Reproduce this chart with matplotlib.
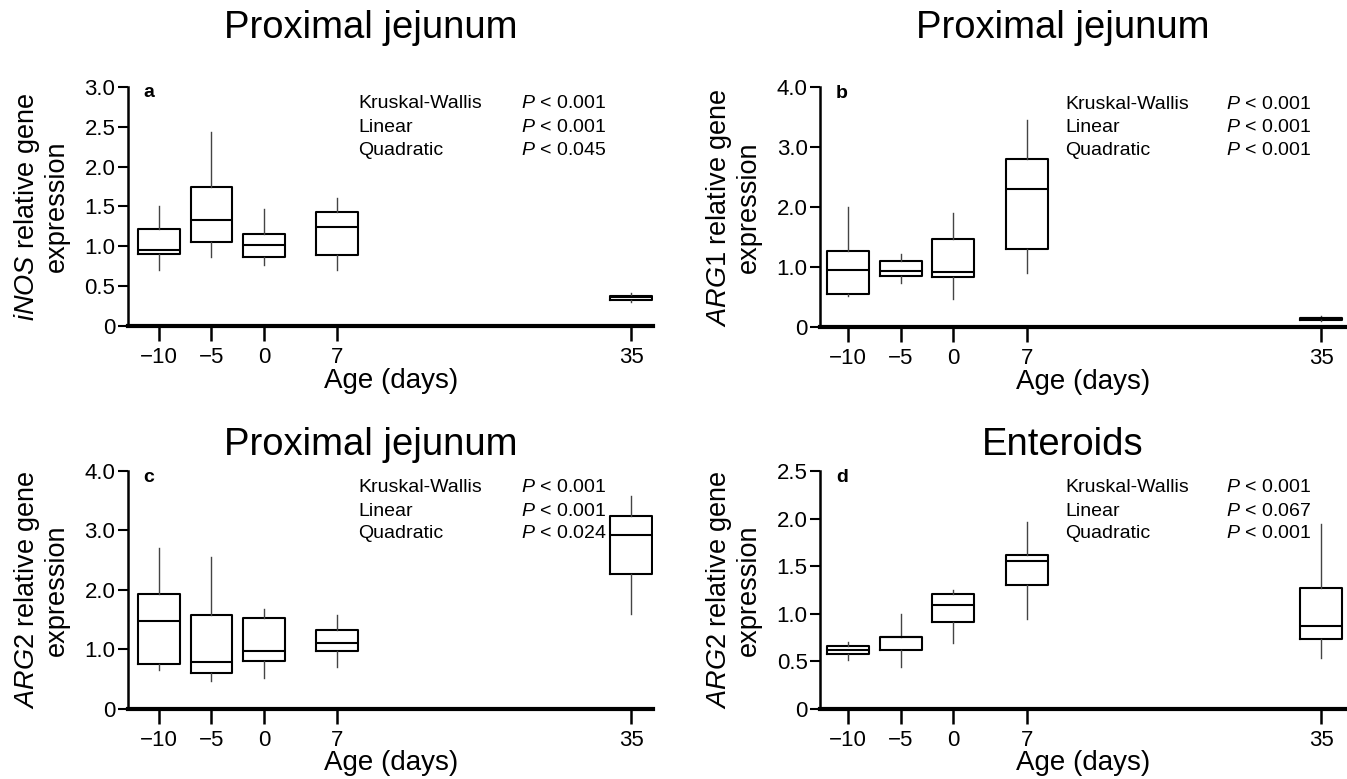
import matplotlib
matplotlib.use('Agg')
import matplotlib.pyplot as plt

plt.rcParams['font.family'] = ['Liberation Sans', 'DejaVu Sans']
plt.rcParams['mathtext.fontset'] = 'custom'
plt.rcParams['mathtext.it'] = 'Liberation Sans:italic'
plt.rcParams['mathtext.rm'] = 'Liberation Sans'

# Age groups
ages = [-10, -5, 0, 7, 35]
age_labels = ['\u221210', '\u22125', '0', '7', '35']

# each panel: whisker low, q1, median, q3, whisker high per age
inos_lo = [0.70, 0.87, 0.77, 0.70, 0.30]
inos_q1 = [0.90, 1.06, 0.87, 0.89, 0.33]
inos_med = [0.95, 1.33, 1.01, 1.24, 0.36]
inos_q3 = [1.22, 1.74, 1.15, 1.43, 0.38]
inos_hi = [1.50, 2.43, 1.47, 1.60, 0.42]

arg1_lo = [0.52, 0.73, 0.47, 0.90, 0.10]
arg1_q1 = [0.55, 0.86, 0.83, 1.31, 0.12]
arg1_med = [0.95, 0.93, 0.92, 2.30, 0.15]
arg1_q3 = [1.27, 1.10, 1.47, 2.80, 0.16]
arg1_hi = [2.00, 1.22, 1.90, 3.45, 0.19]

arg2_lo = [0.65, 0.47, 0.52, 0.70, 1.60]
arg2_q1 = [0.75, 0.60, 0.80, 0.98, 2.26]
arg2_med = [1.48, 0.78, 0.98, 1.10, 2.93]
arg2_q3 = [1.93, 1.57, 1.53, 1.33, 3.25]
arg2_hi = [2.70, 2.55, 1.68, 1.57, 3.58]

ent_lo = [0.51, 0.44, 0.69, 0.94, 0.53]
ent_q1 = [0.58, 0.62, 0.91, 1.30, 0.73]
ent_med = [0.62, 0.75, 1.09, 1.55, 0.87]
ent_q3 = [0.66, 0.76, 1.21, 1.62, 1.27]
ent_hi = [0.70, 1.00, 1.25, 1.96, 1.94]

stats_names = ['Kruskal-Wallis', 'Linear', 'Quadratic']
p_a = ['0.001', '0.001', '0.045']
p_b = ['0.001', '0.001', '0.001']
p_c = ['0.001', '0.001', '0.024']
p_d = ['0.001', '0.067', '0.001']


def make_stats(lo, q1, med, q3, hi):
    out = []
    for i in range(len(lo)):
        out.append({'whislo': lo[i], 'q1': q1[i], 'med': med[i],
                    'q3': q3[i], 'whishi': hi[i], 'fliers': []})
    return out


fig = plt.figure(figsize=(13.47, 7.79), dpi=100)

panels = [
    # pos, data, title, gene, yticks, ylabels, letter, pvals, xlim, title y
    ([0.095, 0.5815, 0.390, 0.307], (inos_lo, inos_q1, inos_med, inos_q3, inos_hi),
     'Proximal jejunum', 'iNOS', [0, 0.5, 1.0, 1.5, 2.0, 2.5, 3.0],
     ['0', '0.5', '1.0', '1.5', '2.0', '2.5', '3.0'], 'a', p_a, (-12.96, 37.1), 1.247),
    ([0.6088, 0.580, 0.3912, 0.308], (arg1_lo, arg1_q1, arg1_med, arg1_q3, arg1_hi),
     'Proximal jejunum', 'ARG1', [0, 1, 2, 3, 4],
     ['0', '1.0', '2.0', '3.0', '4.0'], 'b', p_b, (-12.66, 37.47), 1.246),
    ([0.095, 0.090, 0.390, 0.3055], (arg2_lo, arg2_q1, arg2_med, arg2_q3, arg2_hi),
     'Proximal jejunum', 'ARG2', [0, 1, 2, 3, 4],
     ['0', '1.0', '2.0', '3.0', '4.0'], 'c', p_c, (-12.96, 37.1), 1.11),
    ([0.6088, 0.090, 0.3912, 0.3055], (ent_lo, ent_q1, ent_med, ent_q3, ent_hi),
     'Enteroids', 'ARG2', [0, 0.5, 1.0, 1.5, 2.0, 2.5],
     ['0', '0.5', '1.0', '1.5', '2.0', '2.5'], 'd', p_d, (-12.66, 37.47), 1.11),
]

for pos, data, title, gene, yt, ytl, letter, pv, xl, ty in panels:
    ax = fig.add_axes(pos)
    left_col = pos[0] < 0.5
    st = make_stats(*data)
    ax.bxp(st, positions=ages, widths=4.0, showcaps=False, showfliers=False,
           boxprops=dict(color='black', linewidth=1.5),
           medianprops=dict(color='black', linewidth=1.5),
           whiskerprops=dict(color='#444444', linewidth=1.0),
           manage_ticks=False)
    ax.set_xlim(*xl)
    ax.set_ylim(0, yt[-1])
    ax.set_xticks(ages)
    ax.set_xticklabels(age_labels, fontsize=16)
    ax.set_yticks(yt)
    ax.set_yticklabels(ytl, fontsize=16)
    ax.spines['top'].set_visible(False)
    ax.spines['right'].set_visible(False)
    ax.spines['left'].set_linewidth(1.8)
    ax.spines['bottom'].set_linewidth(3.0)
    ax.tick_params(axis='x', direction='out', length=11, width=1.8, pad=4)
    ax.tick_params(axis='y', direction='out', length=7, width=1.5, pad=2)

    ax.set_xlabel('Age (days)', fontsize=20)
    ax.xaxis.label.set_va('center')
    ax.xaxis.set_label_coords(0.5, -0.228)
    ax.set_ylabel(r'$\it{' + gene + '}$ relative gene\nexpression', fontsize=19.5,
                  linespacing=1.1)
    ax.yaxis.label.set_va('center')
    ax.yaxis.set_label_coords(-0.166, 0.5)

    ax.set_title(title, fontsize=27.5, y=ty, pad=0, va='center')
    ax.title.set_x(0.462 if left_col else 0.46)
    ax.text(0.03, 1.01, letter, transform=ax.transAxes, fontsize=14,
            fontweight='bold', va='top', ha='left')
    x1 = 0.438 if left_col else 0.465
    x2 = 0.749 if left_col else 0.770
    ys = [0.929, 0.831, 0.735]
    for name, p, y in zip(stats_names, pv, ys):
        ax.text(x1, y, name, transform=ax.transAxes, fontsize=14,
                va='center', ha='left')
        ax.text(x2, y, r'$\it{P}$ < ' + p, transform=ax.transAxes,
                fontsize=14, va='center', ha='left')

fig.savefig('out.png', dpi=100)
